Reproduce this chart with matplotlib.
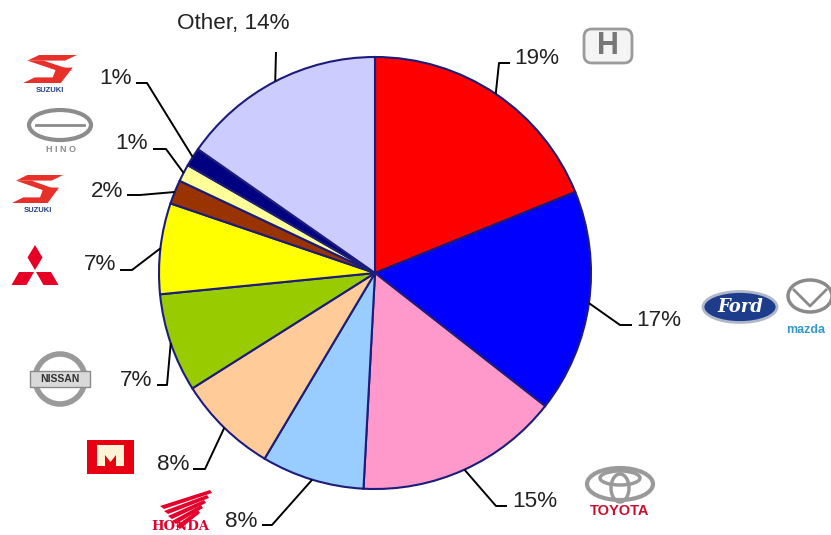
import matplotlib

matplotlib.use("Agg")
import matplotlib.pyplot as plt
import numpy as np
from matplotlib.patches import Ellipse, FancyBboxPatch, Polygon, Rectangle

plt.rcParams["font.family"] = ["Liberation Sans", "DejaVu Sans"]

W, H = 831, 535

# slice shares (clockwise from 12 o'clock)
shares = [18.9, 16.7, 15.3, 7.7, 7.5, 7.4, 6.8, 1.8, 1.3, 1.4, 15.3]
pct_labels = ["19%", "17%", "15%", "8%", "8%", "7%", "7%", "2%", "1%", "1%", "Other, 14%"]
colors = ["#FF0000", "#0000FF", "#FF99CC", "#99CCFF", "#FFCC99", "#99CC00",
          "#FFFF00", "#993300", "#FFFF99", "#000080", "#CCCCFF"]

CX, CY, R = 375, 273, 216

# leader layout in image pixels: (elbow, line end, text anchor, ha)
leaders = [
    ((499, 63), (510, 63), (514, 64), "left"),
    ((620, 325), (632, 325), (636, 326), "left"),
    ((496, 506), (507, 506), (512, 507), "left"),
    ((272, 525), (262, 525), (257, 527), "right"),
    ((205, 469), (193, 469), (189, 470), "right"),
    ((167, 385), (157, 385), (152, 386), "right"),
    ((132, 270), (120, 270), (116, 270), "right"),
    ((140, 195), (127, 195), (123, 197), "right"),
    ((166, 149), (153, 149), (148, 149), "right"),
    ((147, 83), (136, 83), (132, 84), "right"),
    ((276, 52), (276, 52), (233, 29), "center"),
]


def iy(y):
    return H - y


def poly(ax, pts, color):
    ax.add_patch(Polygon([(px, iy(py)) for px, py in pts], closed=True, fc=color, ec="none"))


fig = plt.figure(figsize=(W / 100, H / 100), dpi=100)
ax = fig.add_axes([0, 0, 1, 1])

wedges, _ = ax.pie(
    shares,
    colors=colors,
    startangle=90,
    counterclock=False,
    center=(CX, iy(CY)),
    radius=R,
    wedgeprops=dict(edgecolor="#1c1c7a", linewidth=1.5),
)

for w, lab, (elbow, end, tpos, ha) in zip(wedges, pct_labels, leaders):
    mid = np.deg2rad((w.theta1 + w.theta2) / 2)
    sx = CX + R * np.cos(mid)
    sy = iy(CY) + R * np.sin(mid)
    ax.plot([sx, elbow[0], end[0]], [sy, iy(elbow[1]), iy(end[1])],
            color="black", lw=1.4, solid_capstyle="butt", zorder=3)
    ax.text(tpos[0], iy(tpos[1]), lab, ha=ha, va="baseline",
            fontsize=16.2, color="#222222")

# --- brand marks (rough stand-ins for the logos) ---
# Honda H
ax.add_patch(FancyBboxPatch((584, iy(63)), 48, 34, boxstyle="round,pad=0,rounding_size=8",
                            fc="#f4f4f4", ec="#9a9a9a", lw=2))
ax.text(608, iy(46), "H", ha="center", va="center", fontsize=22, color="#777777",
        fontweight="bold")

# Ford
ax.add_patch(Ellipse((740, iy(307)), 74, 31, fc="#1e3c8c", ec="#b0b8c8", lw=2))
ax.text(740, iy(307), "Ford", ha="center", va="center", fontsize=13, color="white",
        style="italic", fontweight="bold", family="DejaVu Serif")

# Mazda
ax.add_patch(Ellipse((810, iy(296)), 44, 32, fc="none", ec="#8a8a8a", lw=2.5))
ax.plot([794, 810, 826], [iy(290), iy(306), iy(290)], color="#8a8a8a", lw=2)
ax.text(786, iy(330), "mazda", ha="left", va="center", fontsize=9, color="#3399cc",
        fontweight="bold")

# Toyota
ax.add_patch(Ellipse((620, iy(484)), 66, 32, fc="none", ec="#9a9a9a", lw=3))
ax.add_patch(Ellipse((620, iy(488)), 18, 28, fc="none", ec="#9a9a9a", lw=2.5))
ax.add_patch(Ellipse((620, iy(478)), 40, 14, fc="none", ec="#9a9a9a", lw=2.5))
ax.text(620, iy(511), "TOYOTA", ha="center", va="center", fontsize=10.5, color="#c8102e",
        fontweight="bold")

# Suzuki (two): stylised S made of two slanted bands
for x0, y0, sw in [(23, 55, 54), (12, 175, 51)]:
    sh = 28
    for top in (0, 0.5):
        yt = y0 + top * sh
        poly(ax, [(x0 + 0.35 * sw, yt), (x0 + sw, yt), (x0 + 0.65 * sw, yt + 0.5 * sh),
                  (x0, yt + 0.5 * sh)], "#ffffff")
    poly(ax, [(x0 + 0.30 * sw, y0), (x0 + sw, y0), (x0 + 0.78 * sw, y0 + 0.2 * sh),
              (x0 + 0.08 * sw, y0 + 0.2 * sh)], "#e8302a")
    poly(ax, [(x0 + 0.08 * sw, y0 + 0.2 * sh), (x0 + 0.38 * sw, y0 + 0.2 * sh),
              (x0 + 0.92 * sw, y0 + 0.55 * sh), (x0 + 0.62 * sw, y0 + 0.55 * sh)], "#e8302a")
    poly(ax, [(x0 + 0.62 * sw, y0 + 0.45 * sh), (x0 + 0.92 * sw, y0 + 0.45 * sh),
              (x0 + 0.70 * sw, y0 + sh), (x0, y0 + sh), (x0 + 0.22 * sw, y0 + 0.8 * sh),
              (x0 + 0.55 * sw, y0 + 0.8 * sh)], "#e8302a")
    ax.text(x0 + sw / 2, iy(y0 + sh + 7), "SUZUKI", ha="center", va="center",
            fontsize=5.5, color="#1f3c88", fontweight="bold")

# Hino
ax.add_patch(Ellipse((60, iy(125)), 62, 30, fc="none", ec="#8c8c8c", lw=3))
ax.plot([36, 84], [iy(125), iy(125)], color="#8c8c8c", lw=2)
ax.text(61, iy(149), "H I N O", ha="center", va="center", fontsize=6.5, color="#8c8c8c",
        fontweight="bold")

# Mitsubishi
red3 = "#e60026"
poly(ax, [(35, 270), (42.5, 257.5), (35, 245), (27.5, 257.5)], red3)
poly(ax, [(36, 272), (51, 272), (58.5, 285), (43.5, 285)], red3)
poly(ax, [(34, 272), (19, 272), (11.5, 285), (26.5, 285)], red3)

# Nissan
ax.add_patch(Ellipse((60, iy(379)), 50, 50, fc="none", ec="#9a9a9a", lw=4))
ax.add_patch(Rectangle((30, iy(387)), 60, 16, fc="#d9d9d9", ec="#8a8a8a", lw=1))
ax.text(60, iy(379), "NISSAN", ha="center", va="center", fontsize=7.5, color="#333333",
        fontweight="bold")

# Isuzu
ax.add_patch(Rectangle((87, iy(474)), 47, 34, fc="#e60012", ec="none"))
poly(ax, [(97, 445), (124, 445), (124, 466), (116, 466), (116, 455),
          (110.5, 462), (105, 455), (105, 466), (97, 466)], "#fff5d6")

# Honda wing
for k in range(5):
    y0 = 498 + k * 5
    poly(ax, [(160 + k * 4, y0 + 8), (210 - k * 3, y0 - 8),
              (212 - k * 3, y0 - 5), (164 + k * 4, y0 + 11)], "#e4002b")
ax.text(180, iy(527), "HONDA", ha="center", va="center", fontsize=9.5, color="#e4002b",
        fontweight="bold", family="DejaVu Serif")

ax.set_xlim(0, W)
ax.set_ylim(0, H)
ax.set_aspect("equal")
ax.axis("off")

fig.savefig("out.png", dpi=100)
